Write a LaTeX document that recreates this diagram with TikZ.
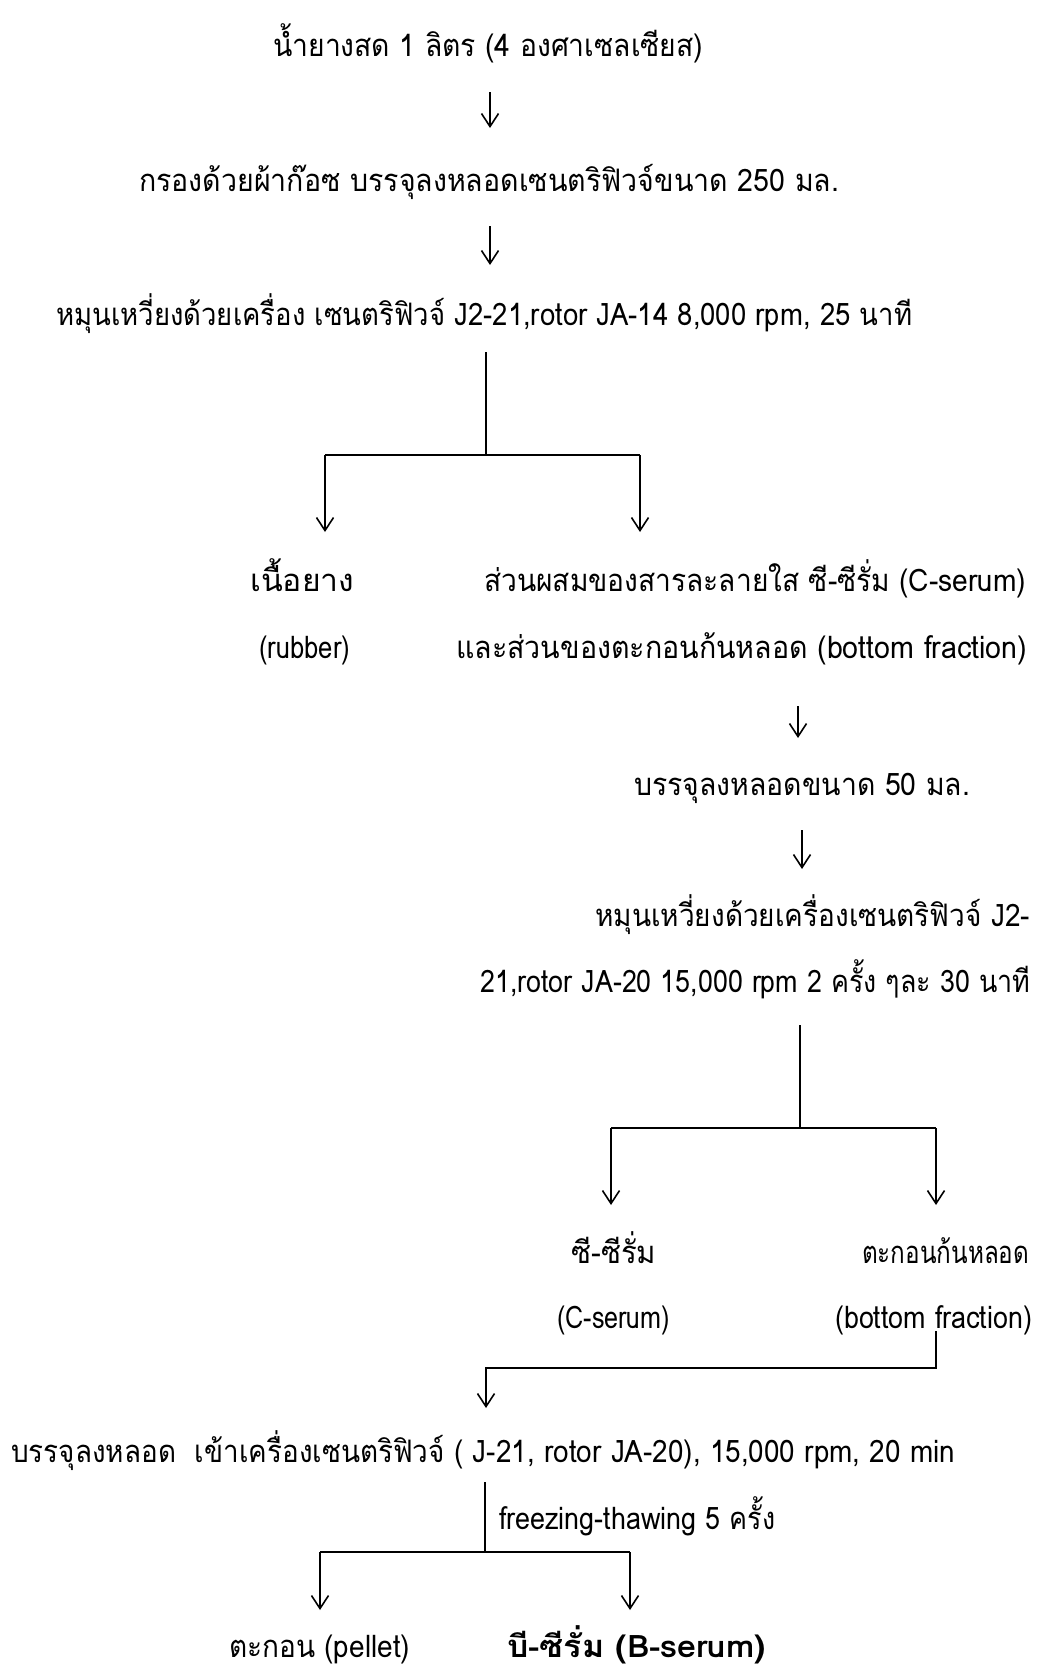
\documentclass[tikz,border=0pt]{standalone}
\usepackage{fontspec}
\setmainfont[Script=Thai]{Loma}
\usetikzlibrary{arrows.meta}
\newcommand\fitw[2]{\resizebox{#1pt}{\height}{#2}}
\tikzset{
  txt/.style={inner sep=0pt, anchor=base west, font=\fontsize{31}{36}\selectfont},
  ln/.style={line width=1.6pt},
  arr/.style={line width=1.6pt, -{Straight Barb[length=13pt,width=17pt]}}
}
\begin{document}
\begin{tikzpicture}[x=1pt,y=-1pt]
\useasboundingbox (0,0) rectangle (1041,1673);
% texts
\node[txt] (n1) at (273,56) {\fitw{430}{น้ำยางสด 1 ลิตร (4 องศาเซลเซียส)}};
\node[txt] (n2) at (139,191) {\fitw{700}{กรองด้วยผ้าก๊อซ บรรจุลงหลอดเซนตริฟิวจ์ขนาด 250 มล.}};
\node[txt] (n3) at (56,325) {\fitw{856}{หมุนเหวี่ยงด้วยเครื่อง เซนตริฟิวจ์ J2-21,rotor JA-14 8,000 rpm, 25 นาที}};
\node[txt] (n4) at (250,591) {\fitw{104}{เนื้อยาง}};
\node[txt] (n5) at (259,658) {\fitw{91}{(rubber)}};
\node[txt] (n6) at (484,591) {\fitw{542}{ส่วนผสมของสารละลายใส ซี-ซีรั่ม (C-serum)}};
\node[txt] (n7) at (456,658) {\fitw{571}{และส่วนของตะกอนก้นหลอด (bottom fraction)}};
\node[txt] (n8) at (634,795) {\fitw{336}{บรรจุลงหลอดขนาด 50 มล.}};
\node[txt] (n9) at (595,926) {\fitw{435}{หมุนเหวี่ยงด้วยเครื่องเซนตริฟิวจ์ J2-}};
\node[txt] (n10) at (480,992) {\fitw{550}{21,rotor JA-20 15,000 rpm 2 ครั้ง ๆละ 30 นาที}};
\node[txt] (n11) at (571,1263) {\fitw{85}{ซี-ซีรั่ม}};
\node[txt] (n12) at (862,1263) {\fitw{167}{ตะกอนก้นหลอด}};
\node[txt] (n13) at (557,1328) {\fitw{113}{(C-serum)}};
\node[txt] (n14) at (835,1328) {\fitw{197}{(bottom fraction)}};
\node[txt] (n15) at (11,1462) {\fitw{944}{บรรจุลงหลอด\ \ เข้าเครื่องเซนตริฟิวจ์ ( J-21, rotor JA-20), 15,000 rpm, 20 min}};
\node[txt] (n16) at (499,1529) {\fitw{276}{freezing-thawing 5 ครั้ง}};
\node[txt] (n17) at (229,1657) {\fitw{181}{ตะกอน (pellet)}};
\node[txt] (n18) at (507,1657) {\fitw{259}{\bfseries บี-ซีรั่ม (B-serum)}};
% connector points
\coordinate (a1s) at (490,92);   \coordinate (a1e) at (490,128);
\coordinate (a2s) at (490,226);  \coordinate (a2e) at (490,265);
\coordinate (b1) at (486,352);   \coordinate (b1m) at (486,455);
\coordinate (b1l) at (325,455);  \coordinate (b1r) at (640,455);
\coordinate (b1le) at (325,532); \coordinate (b1re) at (640,532);
\coordinate (a3s) at (798,706);  \coordinate (a3e) at (798,738);
\coordinate (a4s) at (802,830);  \coordinate (a4e) at (802,869);
\coordinate (b2) at (800,1025);  \coordinate (b2m) at (800,1128);
\coordinate (b2l) at (611,1128); \coordinate (b2r) at (936,1128);
\coordinate (b2le) at (611,1205);\coordinate (b2re) at (936,1205);
\coordinate (b3) at (936,1331);  \coordinate (b3c) at (936,1368);
\coordinate (b3l) at (486,1368); \coordinate (b3e) at (486,1408);
\coordinate (b4) at (485,1482);  \coordinate (b4m) at (485,1552);
\coordinate (b4l) at (320,1552); \coordinate (b4r) at (630,1552);
\coordinate (b4le) at (320,1610);\coordinate (b4re) at (630,1610);
% connectors
\draw[arr] (a1s) -- (a1e);
\draw[arr] (a2s) -- (a2e);
\draw[ln] (b1) -- (b1m);
\draw[ln] (b1l) -- (b1r);
\draw[arr] (b1l) -- (b1le);
\draw[arr] (b1r) -- (b1re);
\draw[arr] (a3s) -- (a3e);
\draw[arr] (a4s) -- (a4e);
\draw[ln] (b2) -- (b2m);
\draw[ln] (b2l) -- (b2r);
\draw[arr] (b2l) -- (b2le);
\draw[arr] (b2r) -- (b2re);
\draw[arr] (b3) -- (b3c) -- (b3l) -- (b3e);
\draw[ln] (b4) -- (b4m);
\draw[ln] (b4l) -- (b4r);
\draw[arr] (b4l) -- (b4le);
\draw[arr] (b4r) -- (b4re);
\end{tikzpicture}
\end{document}
